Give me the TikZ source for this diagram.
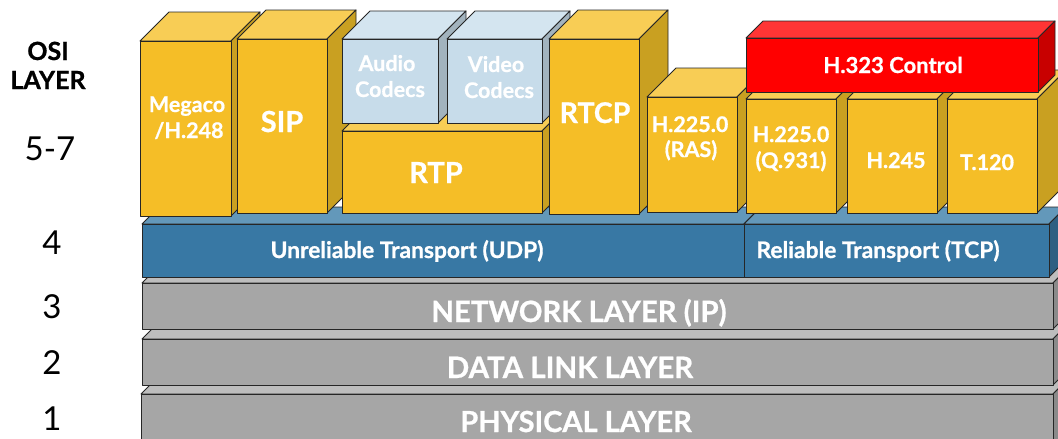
\documentclass[tikz,border=0pt]{standalone}
\usepackage{fontspec}
\setmainfont{Lato}[BoldFeatures={FakeBold=0.8}]
\definecolor{yelfront}{HTML}{F5BE27}
\definecolor{yeltop}{HTML}{F8CD55}
\definecolor{yelside}{HTML}{C9A021}
\definecolor{bluefront}{HTML}{3878A4}
\definecolor{bluetop}{HTML}{6398BA}
\definecolor{blueside}{HTML}{2D5F82}
\definecolor{grayfront}{HTML}{A6A6A6}
\definecolor{graytop}{HTML}{BDBDBD}
\definecolor{grayside}{HTML}{8A8A8A}
\definecolor{redfront}{HTML}{FF0000}
\definecolor{redtop}{HTML}{FF3535}
\definecolor{redside}{HTML}{C80000}
\definecolor{codfront}{HTML}{C7DCEA}
\definecolor{codtop}{HTML}{D4E5F0}
\definecolor{codside}{HTML}{A2B3BE}
\newcommand\setfs[1]{\fontsize{#1}{#1}\selectfont}
% x1,y1,x2,y2,depth,colour prefix
\newcommand\cubebox[6]{%
  \filldraw[edge, fill=#6top] (#1,#2) -- ({#1+#5},{#2-#5}) -- ({#3+#5},{#2-#5}) -- (#3,#2) -- cycle;
  \filldraw[edge, fill=#6side] (#3,#2) -- ({#3+#5},{#2-#5}) -- ({#3+#5},{#4-#5}) -- (#3,#4) -- cycle;
  \filldraw[edge, fill=#6front] (#1,#2) rectangle (#3,#4);
}
\begin{document}
\begin{tikzpicture}[x=1pt,y=-1pt,
  edge/.style={draw=black!85, line width=0.9pt, line join=round},
  wl/.style={text=white, font=\bfseries, inner sep=0pt, anchor=base},
  osi/.style={text=black, font=\bfseries\setfs{25}, inner sep=0pt, anchor=base},
  num/.style={text=black, font=\setfs{33}, inner sep=0pt, anchor=base}]
\clip (0,0) rectangle (1058,439);
\fill[white] (0,0) rectangle (1058,439);

% lower layers
\cubebox{141}{394}{1053}{470}{17}{gray}
\cubebox{142}{339}{1053}{385}{17}{gray}
\cubebox{142}{283}{1053}{329}{17}{gray}
\cubebox{142}{224}{744}{277}{17}{blue}
\cubebox{744}{224}{1049}{277}{17}{blue}

% upper protocol boxes
\cubebox{140}{41}{231}{216}{29}{yel}
\cubebox{237}{39}{327}{213}{29}{yel}
\cubebox{342}{131}{542}{213}{29}{yel}
\cubebox{342}{39}{438}{123}{28}{cod}
\cubebox{447}{39}{542}{123}{28}{cod}
\cubebox{549}{39}{639}{214}{29}{yel}
\cubebox{647}{97}{737}{212}{29}{yel}
\cubebox{746}{99}{836}{213}{29}{yel}
\cubebox{847}{99}{937}{213}{29}{yel}
\cubebox{947}{99}{1037}{213}{29}{yel}
\cubebox{746}{38}{1038}{92}{17}{red}

% left labels
\node[osi] (osi1) at (48,60) {OSI};
\node[osi] (osi2) at (48,89) {LAYER};
\node[num] (n57) at (50,160) {5-7};
\node[num] (n4) at (52,254) {4};
\node[num] (n3) at (52,318) {3};
\node[num] (n2) at (52,374) {2};
\node[num] (n1) at (52,430) {1};

% box labels
\node[wl, font=\bfseries\setfs{21.5}] (meg1) at (187,112) {Megaco};
\node[wl, font=\bfseries\setfs{21.5}] (meg2) at (189,138) {/H.248};
\node[wl, font=\bfseries\setfs{29}] (sip) at (282,132) {SIP};
\node[wl, font=\bfseries\setfs{21.5}] (aud1) at (387,71) {Audio};
\node[wl, font=\bfseries\setfs{21.5}] (aud2) at (390,97) {Codecs};
\node[wl, font=\bfseries\setfs{21.5}] (vid1) at (496,72) {Video};
\node[wl, font=\bfseries\setfs{21.5}] (vid2) at (499,98) {Codecs};
\node[wl, font=\bfseries\setfs{29}] (rtp) at (436,183) {RTP};
\node[wl, font=\bfseries\setfs{28.5}] (rtcp) at (595,123) {RTCP};
\node[wl, font=\bfseries\setfs{21.5}] (ras1) at (690,132) {H.225.0};
\node[wl, font=\bfseries\setfs{21.5}] (ras2) at (691,157) {(RAS)};
\node[wl, font=\bfseries\setfs{21.5}] (q1) at (791,142) {H.225.0};
\node[wl, font=\bfseries\setfs{21.5}] (q2) at (791,168) {(Q.931)};
\node[wl, font=\bfseries\setfs{21.5}] (h245) at (896,168) {H.245};
\node[wl, font=\bfseries\setfs{21.5}] (t120) at (987,170) {T.120};
\node[wl, font=\bfseries\setfs{22}] (h323) at (893,73) {H.323 Control};
\node[wl, font=\bfseries\setfs{22.8}] (udp) at (407,258) {Unreliable Transport (UDP)};
\node[wl, font=\bfseries\setfs{22.8}] (tcp) at (878,258) {Reliable Transport (TCP)};
\node[wl, font=\bfseries\setfs{29.3}] (net) at (579,322) {NETWORK LAYER (IP)};
\node[wl, font=\bfseries\setfs{29.5}] (dll) at (570,378) {DATA LINK LAYER};
\node[wl, font=\bfseries\setfs{29}] (phy) at (576,432) {PHYSICAL LAYER};
\end{tikzpicture}
\end{document}
